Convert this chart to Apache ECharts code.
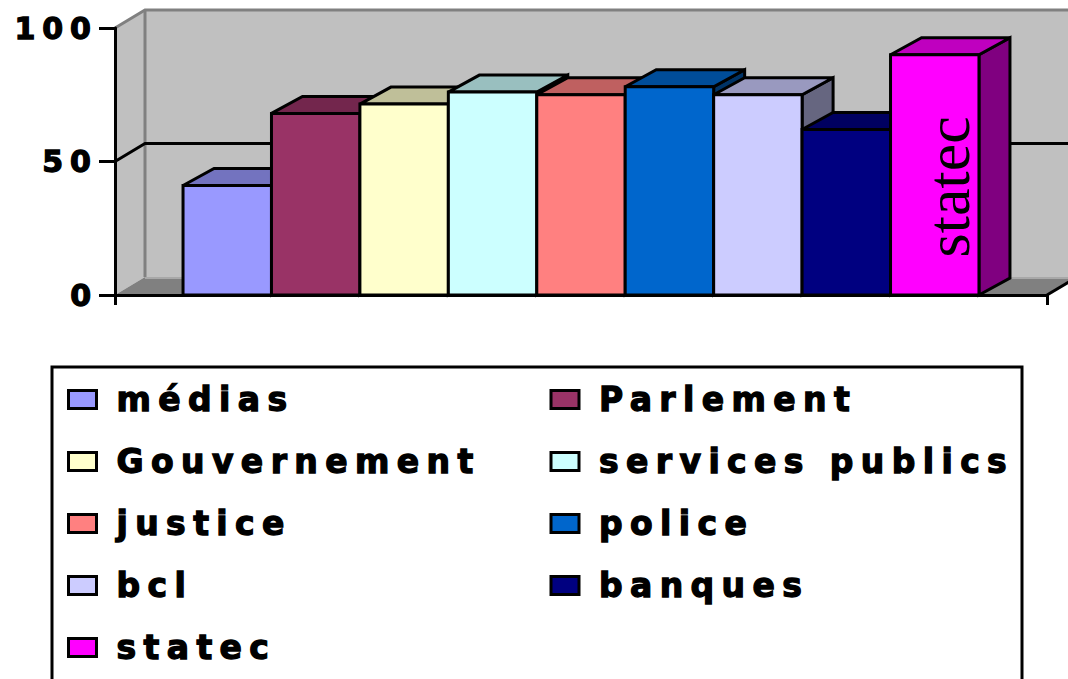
<!DOCTYPE html>
<html>
<head>
<meta charset="utf-8">
<script src="https://cdn.jsdelivr.net/npm/echarts@6/dist/echarts.min.js"></script>
<style>
html, body { margin: 0; padding: 0; background: #fff; }
#c { width: 1068px; height: 679px; }
#c svg text[style*="DejaVu"] { letter-spacing: 7px; stroke: #000; stroke-width: 1.3px; }
#c svg text[style*="33px"] { letter-spacing: 7.4px; }
</style>
</head>
<body>
<div id="c"></div>
<script>
// ---- data ----
var categories = ['médias', 'Parlement', 'Gouvernement', 'services publics', 'justice', 'police', 'bcl', 'banques', 'statec'];
var values = [41, 68, 71.5, 76, 75, 78, 75, 62, 90];
var colors = ['#9999FF', '#993366', '#FFFFCC', '#CCFFFF', '#FF8080', '#0066CC', '#CCCCFF', '#000080', '#FF00FF'];
var yTicks = [0, 50, 100];
var legendOrder = ['médias', 'Gouvernement', 'justice', 'bcl', 'statec', 'Parlement', 'services publics', 'police', 'banques'];
var labeledSeries = ['statec'];

// ---- style constants ----
var WALL_D = [30, -18];
var BAR_D = [31, -17];
var CLUSTER = 0.854;

function shade(hex, f) {
  var n = parseInt(hex.slice(1), 16);
  var r = Math.round(((n >> 16) & 255) * f);
  var g = Math.round(((n >> 8) & 255) * f);
  var b = Math.round((n & 255) * f);
  return 'rgb(' + r + ',' + g + ',' + b + ')';
}

function renderWall(params, api) {
  var c0 = api.coord([0, yTicks[0]]);
  var band = api.size([1, 0])[0];
  var L = c0[0] - band / 2, R = c0[0] + band / 2, B = c0[1];
  var T = api.coord([0, yTicks[yTicks.length - 1]])[1];
  var dx = WALL_D[0], dy = WALL_D[1];
  var ch = [
    { type: 'polygon', shape: { points: [[L, T], [L + dx, T + dy], [L + dx, B + dy], [L, B]] }, style: { fill: '#C0C0C0' } },
    { type: 'rect', shape: { x: L + dx, y: T + dy, width: R - L, height: B - T }, style: { fill: '#C0C0C0' } },
    { type: 'polygon', shape: { points: [[L, B], [L + dx, B + dy], [R + dx, B + dy], [R, B]] }, style: { fill: '#808080' } },
    { type: 'line', shape: { x1: L + dx, y1: B + dy + 1, x2: R + dx, y2: B + dy + 1 }, style: { stroke: '#A8A8A8', lineWidth: 2 } },
    { type: 'polyline', shape: { points: [[L, T], [L + dx, T + dy], [R + dx, T + dy]] }, style: { stroke: '#808080', lineWidth: 3, fill: null } },
    { type: 'line', shape: { x1: L + dx, y1: T + dy, x2: L + dx, y2: B + dy }, style: { stroke: '#808080', lineWidth: 3 } },
    { type: 'line', shape: { x1: R, y1: B, x2: R + dx, y2: B + dy }, style: { stroke: '#000', lineWidth: 3 } }
  ];
  for (var k = 1; k < yTicks.length - 1; k++) {
    var y = api.coord([0, yTicks[k]])[1];
    ch.push({ type: 'polyline', shape: { points: [[L, y], [L + dx, y + dy], [R + dx, y + dy]] }, style: { stroke: '#000', lineWidth: 3, fill: null } });
  }
  return { type: 'group', children: ch };
}

function renderBar(params, api) {
  var idx = categories.indexOf(params.seriesName);
  var n = categories.length;
  var v = api.value(1);
  var base = api.coord([api.value(0), 0]);
  var top = api.coord([api.value(0), v]);
  var band = api.size([1, 0])[0];
  var cw = band * CLUSTER, bw = cw / n;
  var x0 = base[0] - cw / 2 + idx * bw, x1 = x0 + bw;
  var yT = top[1], yB = base[1];
  var dx = BAR_D[0], dy = BAR_D[1];
  var col = colors[idx];
  var st = function (fill) { return { fill: fill, stroke: '#000', lineWidth: 3, lineJoin: 'miter' }; };
  var ch = [
    { type: 'polygon', shape: { points: [[x1, yT], [x1 + dx, yT + dy], [x1 + dx, yB + dy], [x1, yB]] }, style: st(shade(col, 0.5)) },
    { type: 'polygon', shape: { points: [[x0, yT], [x1, yT], [x1 + dx, yT + dy], [x0 + dx, yT + dy]] }, style: st(shade(col, 0.75)) },
    { type: 'rect', shape: { x: x0, y: yT, width: bw, height: yB - yT }, style: st(col) }
  ];
  if (labeledSeries.indexOf(params.seriesName) >= 0) {
    ch.push({
      type: 'text',
      x: x0 + bw / 2 + dx / 2 - 2,
      y: yB - (yB - yT) * 0.45,
      rotation: Math.PI / 2,
      style: { text: params.seriesName, fontFamily: 'Liberation Serif', fontSize: 62, fill: '#000', align: 'center', verticalAlign: 'middle' }
    });
  }
  return { type: 'group', children: ch };
}

var series = [{
  type: 'custom', name: '_wall', z: 1, silent: true, data: [[0, 0]],
  encode: { x: 0, y: 1 }, renderItem: renderWall
}];
categories.forEach(function (name, i) {
  series.push({
    type: 'custom', name: name, z: 2, data: [[0, values[i]]],
    encode: { x: 0, y: 1 }, itemStyle: { color: colors[i] }, renderItem: renderBar
  });
});

var chart = echarts.init(document.getElementById('c'), null, { renderer: 'svg' });
chart.setOption({
  animation: false,
  backgroundColor: '#fff',
  grid: { left: 115, top: 28, width: 932, height: 267, containLabel: false },
  xAxis: {
    type: 'category', data: [''], z: 10,
    axisLine: { show: true, lineStyle: { color: '#000', width: 3 } },
    axisTick: { show: true, length: 10, lineStyle: { color: '#000', width: 3 } },
    axisLabel: { show: false },
    splitLine: { show: false }
  },
  yAxis: {
    type: 'value', min: yTicks[0], max: yTicks[yTicks.length - 1], interval: yTicks[1] - yTicks[0], z: 10,
    axisLine: { show: true, lineStyle: { color: '#000', width: 3 } },
    axisTick: { show: true, length: 16, lineStyle: { color: '#000', width: 3 } },
    axisLabel: { color: '#000', fontSize: 30, fontWeight: 'bold', fontFamily: 'DejaVu Sans', margin: 17 },
    splitLine: { show: false }
  },
  legend: {
    data: legendOrder, orient: 'vertical', left: 52, top: 367, height: 300,
    padding: [12, 11, 14, 15], itemWidth: 28, itemHeight: 18, itemGap: 21,
    borderColor: '#000', borderWidth: 3, icon: 'rect', selectedMode: false,
    itemStyle: { borderColor: '#000', borderWidth: 3 },
    textStyle: {
      fontFamily: 'DejaVu Sans', fontWeight: 'bold', fontSize: 33, color: '#000',
      lineHeight: 41, width: 412, padding: [0, 0, 0, 15], backgroundColor: 'transparent'
    }
  },
  series: series
});
</script>
</body>
</html>
